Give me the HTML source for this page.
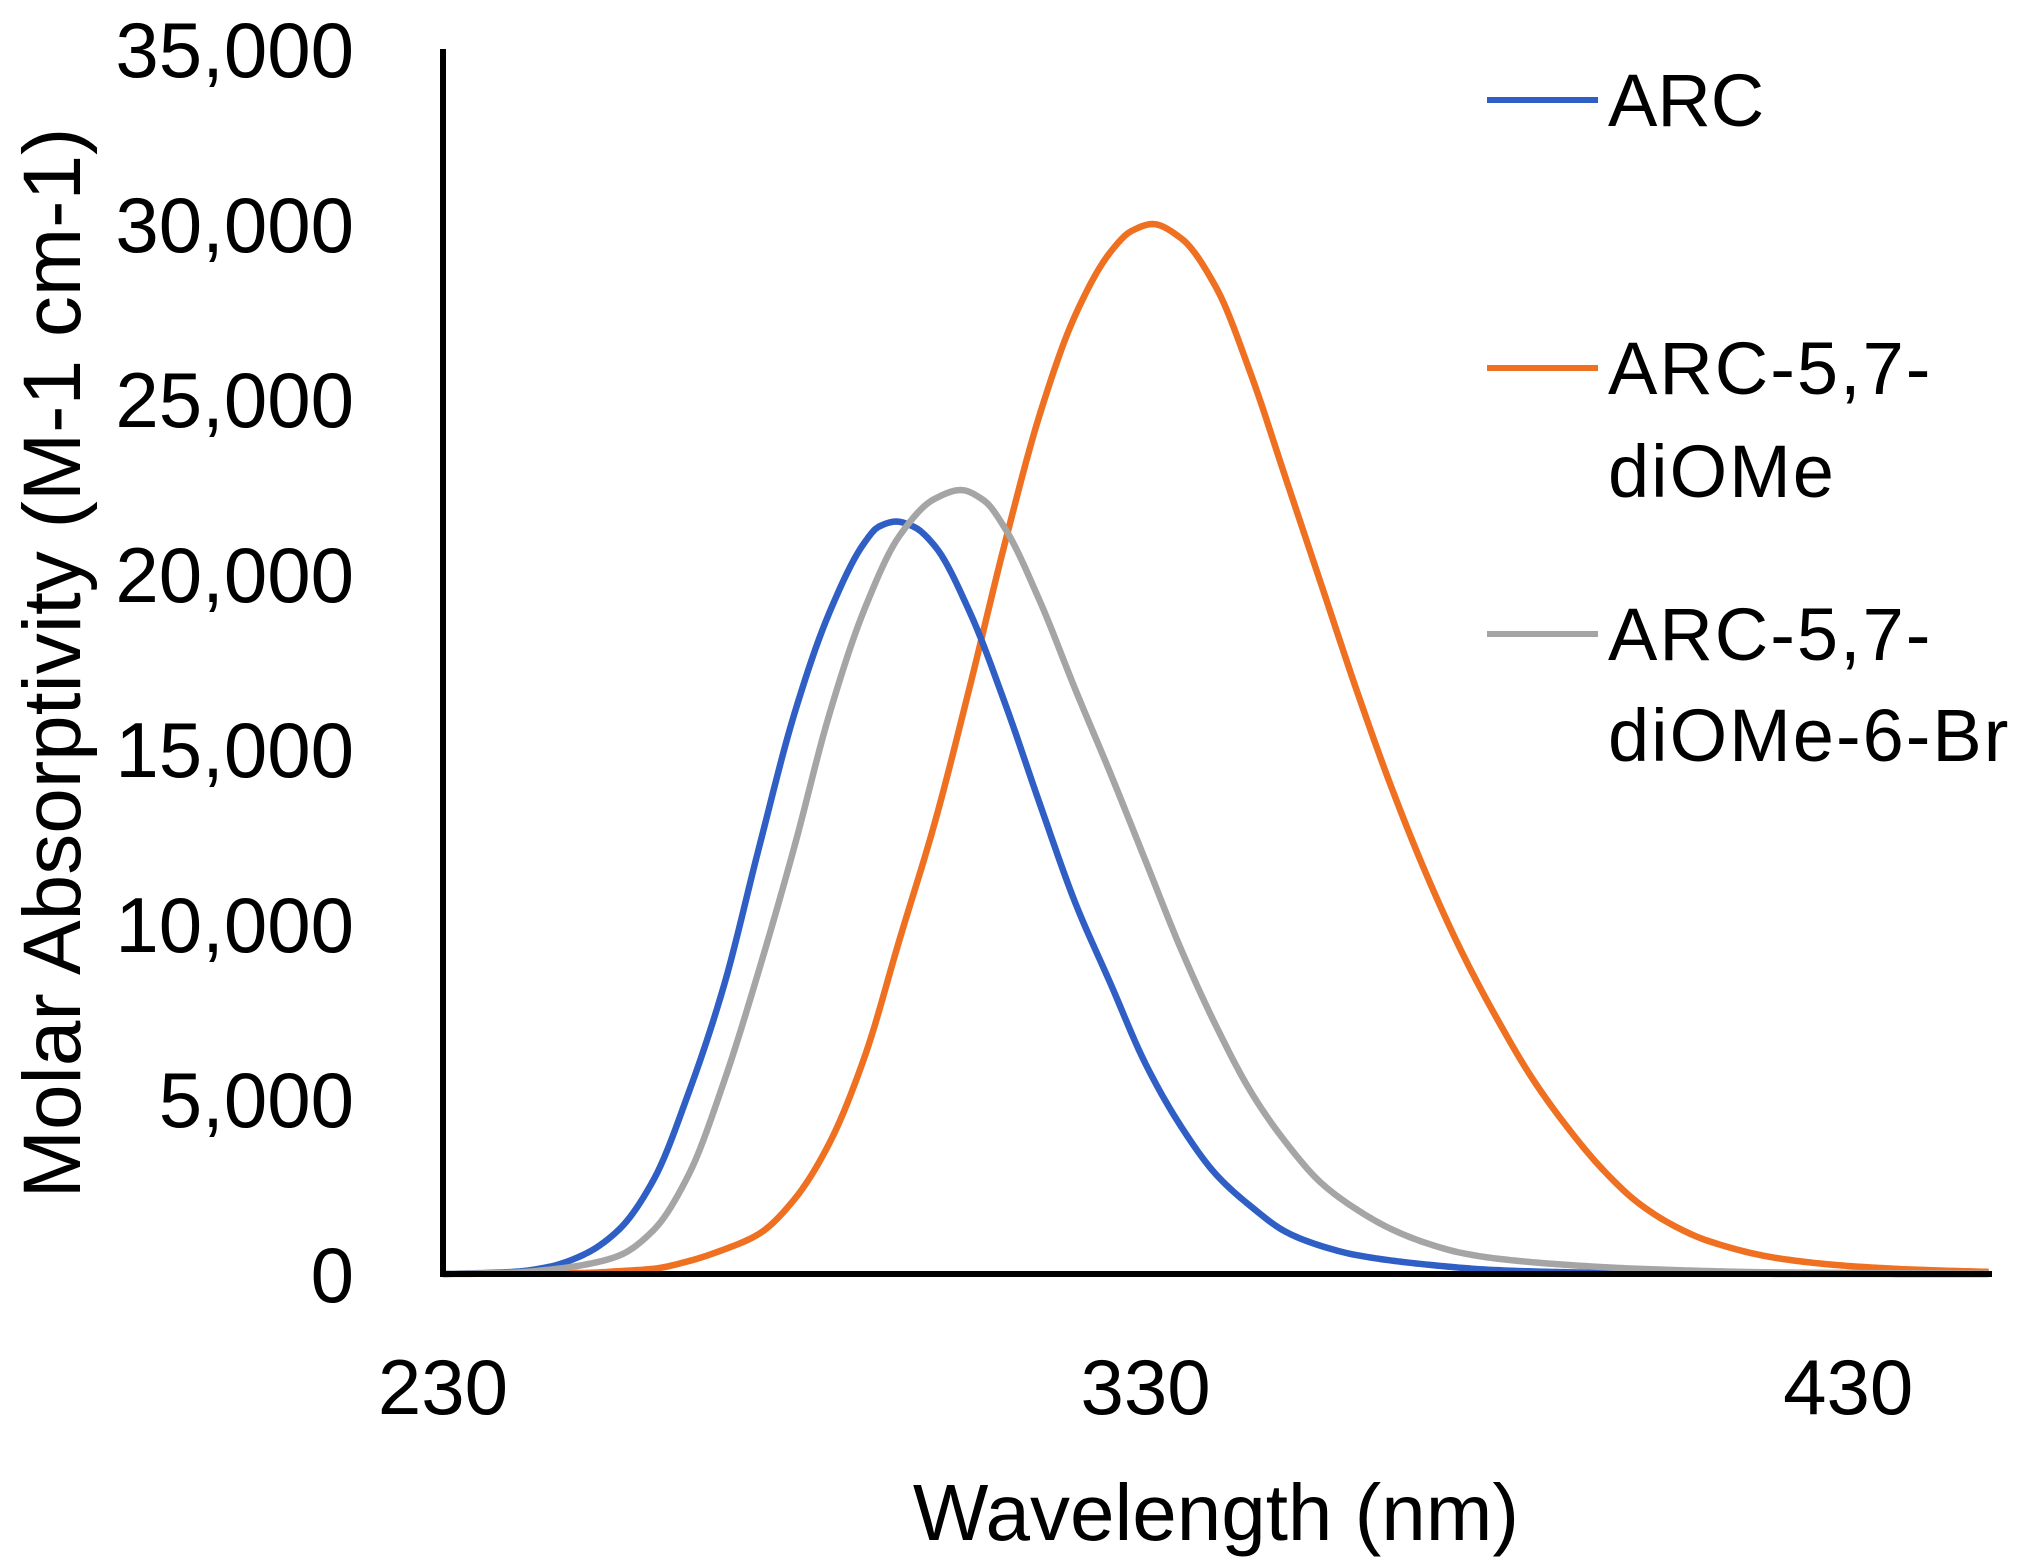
<!DOCTYPE html>
<html><head><meta charset="utf-8"><style>
html,body{margin:0;padding:0;background:#fff;}
svg{display:block;font-family:"Liberation Sans",Arial,sans-serif;}
</style></head><body>
<svg id="chart" width="2040" height="1568" viewBox="0 0 2040 1568">
<g id="yticks"></g>
<g id="xticks"></g>
<g id="series"></g>
<line x1="443" y1="49" x2="443" y2="1277" stroke="#000" stroke-width="6"/>
<line x1="440" y1="1274" x2="1992" y2="1274" stroke="#000" stroke-width="6"/>
<text x="1216" y="1540" font-size="80" text-anchor="middle">Wavelength (nm)</text>
<text transform="translate(80,663) rotate(-90)" font-size="82" text-anchor="middle">Molar Absorptivity (M-1 cm-1)</text>
<g>
 <g>
  <line x1="1487" y1="100" x2="1598" y2="100" stroke="#2F5FC4" stroke-width="6"/>
  <text x="1608" y="126" font-size="74">ARC</text>
 </g>
 <g>
  <line x1="1487" y1="368" x2="1598" y2="368" stroke="#EE7020" stroke-width="6"/>
  <text x="1608" y="394" font-size="74" letter-spacing="2">ARC-5,7-</text>
  <text x="1608" y="497" font-size="74" letter-spacing="2">diOMe</text>
 </g>
 <g>
  <line x1="1487" y1="634" x2="1598" y2="634" stroke="#A5A5A5" stroke-width="6"/>
  <text x="1608" y="660" font-size="74" letter-spacing="2">ARC-5,7-</text>
  <text x="1608" y="761" font-size="74" letter-spacing="2">diOMe-6-Br</text>
 </g>
</g>
</svg>
<script>
const yTickValues = [0,5000,10000,15000,20000,25000,30000,35000];
const yTickLabels = ["0","5,000","10,000","15,000","20,000","25,000","30,000","35,000"];
const xTickValues = [230,330,430];
const xTickLabels = ["230","330","430"];
const arcX = [230,240,245,250,255,260,265,270,275,280,285,290,292,294.5,297,300,305,310,315,320,325,330,335,340,345,350,355,360,370,380,390,400,420,450];
const arcY = [0,60,200,550,1260,2700,5200,8250,12200,16000,18900,20900,21350,21500,21350,20800,18900,16300,13400,10600,8300,6000,4230,2850,1930,1200,800,540,270,110,50,20,5,0];
const diomeX = [230,250,255,260,265,270,275,280,285,290,295,300,305,310,315,320,325,328,331,335,340,345,350,355,360,365,370,375,380,385,390,395,400,405,410,420,430,440,450];
const diomeY = [0,30,80,150,370,700,1150,2130,3740,6200,9570,12900,16800,20900,24600,27400,29200,29800,30000,29600,28200,25700,22700,19700,16700,13900,11400,9200,7300,5600,4200,3000,2050,1400,950,450,230,120,60];
const brX = [230,240,245,250,255,260,265,270,275,280,285,290,295,300,303.7,307,310,315,320,325,330,335,340,345,350,355,360,365,370,375,380,390,400,420,450];
const brY = [0,40,120,260,520,1260,2850,5500,8700,12200,16000,19000,21100,22150,22400,22100,21300,19200,16700,14300,11800,9300,7100,5200,3750,2600,1850,1280,880,600,440,260,150,45,10];

const NS="http://www.w3.org/2000/svg";
function xs(nm){return 443+(nm-230)*7.026;}
function ys(v){return 1274-v*0.035;}
function mk(tag,attrs,parent){const e=document.createElementNS(NS,tag);for(const k in attrs)e.setAttribute(k,attrs[k]);parent.appendChild(e);return e;}

const yg=document.getElementById('yticks');
yTickValues.forEach((v,i)=>{
  const t=mk('text',{x:354,y:ys(v)+28,'font-size':78,'text-anchor':'end'},yg);
  
  
  t.textContent=yTickLabels[i];
});
const xg=document.getElementById('xticks');
xTickValues.forEach((v,i)=>{
  const t=mk('text',{x:xs(v),y:1414,'font-size':78,'text-anchor':'middle'},xg);
  
  
  t.textContent=xTickLabels[i];
});

function monoPath(X,Y){
  const n=X.length, d=[], m=new Array(n);
  for(let i=0;i<n-1;i++) d.push((Y[i+1]-Y[i])/(X[i+1]-X[i]));
  m[0]=d[0]; m[n-1]=d[n-2];
  for(let i=1;i<n-1;i++){
    if(d[i-1]*d[i]<=0){m[i]=0;}
    else{
      const h0=X[i]-X[i-1],h1=X[i+1]-X[i];
      const w1=2*h1+h0,w2=h1+2*h0;
      m[i]=(w1+w2)/(w1/d[i-1]+w2/d[i]);
    }
  }
  let pts=[];
  for(let i=0;i<n-1;i++){
    const h=X[i+1]-X[i];
    const steps=Math.max(2,Math.ceil(h*2));
    for(let s=(i===0?0:1);s<=steps;s++){
      const t=s/steps, t2=t*t, t3=t2*t;
      const v=(2*t3-3*t2+1)*Y[i]+(t3-2*t2+t)*h*m[i]+(-2*t3+3*t2)*Y[i+1]+(t3-t2)*h*m[i+1];
      pts.push(xs(X[i]+t*h).toFixed(2)+','+ys(Math.max(0,v)).toFixed(2));
    }
  }
  return 'M'+pts.join(' L');
}
const sg=document.getElementById('series');
const lo=mk('path',{d:monoPath(diomeX,diomeY),fill:'none',stroke:'#EE7020','stroke-width':6.5,'stroke-linejoin':'round'},sg);


const lb=mk('path',{d:monoPath(arcX,arcY),fill:'none',stroke:'#2F5FC4','stroke-width':6.5,'stroke-linejoin':'round'},sg);


const lg=mk('path',{d:monoPath(brX,brY),fill:'none',stroke:'#A5A5A5','stroke-width':6.5,'stroke-linejoin':'round'},sg);


</script>
</body></html>
